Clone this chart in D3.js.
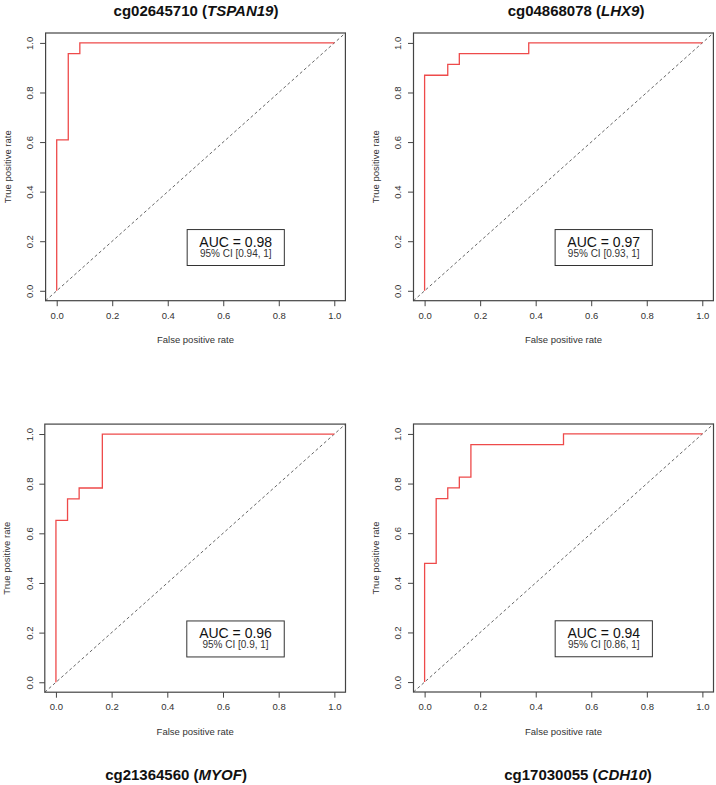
<!DOCTYPE html>
<html><head><meta charset="utf-8">
<script src="https://cdn.jsdelivr.net/npm/d3@7"></script>
<style>body{margin:0;background:#fff}svg{display:block}text{font-family:"Liberation Sans",Arial,sans-serif}</style>
</head><body>
<script>
// Data
const probeIds = ["cg02645710", "cg04868078", "cg21364560", "cg17030055"];
const geneNames = ["TSPAN19", "LHX9", "MYOF", "CDH10"];
const aucValues = ["0.98", "0.97", "0.96", "0.94"];
const ciLabels = ["[0.94, 1]", "[0.93, 1]", "[0.9, 1]", "[0.86, 1]"];
// ROC step points (FPR, TPR); 24 controls, 23 cases
const fpr1 = [0, 0, 1/24, 1/24, 2/24, 2/24, 1];
const tpr1 = [0, 14/23, 14/23, 22/23, 22/23, 1, 1];
const fpr2 = [0, 0, 2/24, 2/24, 3/24, 3/24, 9/24, 9/24, 1];
const tpr2 = [0, 20/23, 20/23, 21/23, 21/23, 22/23, 22/23, 1, 1];
const fpr3 = [0, 0, 1/24, 1/24, 2/24, 2/24, 4/24, 4/24, 1];
const tpr3 = [0, 15/23, 15/23, 17/23, 17/23, 18/23, 18/23, 1, 1];
const fpr4 = [0, 0, 1/24, 1/24, 2/24, 2/24, 3/24, 3/24, 4/24, 4/24, 12/24, 12/24, 1];
const tpr4 = [0, 11/23, 11/23, 17/23, 17/23, 18/23, 18/23, 19/23, 19/23, 22/23, 22/23, 1, 1];
const tickValues = [0, 0.2, 0.4, 0.6, 0.8, 1.0];
const xLabel = "False positive rate";
const yLabel = "True positive rate";

const curves = [[fpr1, tpr1], [fpr2, tpr2], [fpr3, tpr3], [fpr4, tpr4]];

// Layout
const panels = [
  {left: 45.6, top: 33, w: 299.8, h: 267.7, titleX: 196, titleY: 16},
  {left: 413.5, top: 33, w: 299.9, h: 267.7, titleX: 576, titleY: 16},
  {left: 44.8, top: 424.1, w: 300.7, h: 268.1, titleX: 176, titleY: 780},
  {left: 413.5, top: 424, w: 300, h: 268, titleX: 578, titleY: 780}
];

const svg = d3.select("body").append("svg").attr("width", 716).attr("height", 785);

panels.forEach((p, i) => {
  const x = d3.scaleLinear().domain([-0.04, 1.04]).range([p.left, p.left + p.w]);
  const y = d3.scaleLinear().domain([-0.04, 1.04]).range([p.top + p.h, p.top]);
  const g = svg.append("g");

  // title
  const t = g.append("text").attr("x", p.titleX).attr("y", p.titleY)
    .attr("text-anchor", "middle").attr("font-size", 15).attr("font-weight", "bold").attr("fill", "#111");
  t.append("tspan").text(probeIds[i] + " (");
  t.append("tspan").attr("font-style", "italic").text(geneNames[i]);
  t.append("tspan").text(")");

  // diagonal
  g.append("line").attr("x1", x(-0.04)).attr("y1", y(-0.04)).attr("x2", x(1.04)).attr("y2", y(1.04))
    .attr("stroke", "#555").attr("stroke-width", 0.9).attr("stroke-dasharray", "3,2.5");

  // ROC curve
  const [fx, ty] = curves[i];
  const pts = fx.map((v, k) => [v, ty[k]]);
  g.append("path").attr("d", d3.line().x(d => x(d[0])).y(d => y(d[1]))(pts))
    .attr("fill", "none").attr("stroke", "#ee4a4a").attr("stroke-width", 1.3);

  // box
  g.append("rect").attr("x", p.left).attr("y", p.top).attr("width", p.w).attr("height", p.h)
    .attr("fill", "none").attr("stroke", "#444").attr("stroke-width", 1.2);

  // axes
  const xAxis = g.append("g").attr("transform", `translate(0,${p.top + p.h})`)
    .call(d3.axisBottom(x).tickValues(tickValues).tickFormat(d3.format(".1f")).tickSize(5.5).tickPadding(6));
  const yAxis = g.append("g").attr("transform", `translate(${p.left},0)`)
    .call(d3.axisLeft(y).tickValues(tickValues).tickFormat(d3.format(".1f")).tickSize(5.5).tickPadding(6));
  [xAxis, yAxis].forEach(a => {
    a.select(".domain").remove();
    a.selectAll("line").attr("stroke", "#444");
    a.selectAll("text").attr("font-size", 9.5).attr("fill", "#333").attr("font-family", '"Liberation Sans",Arial,sans-serif');
  });
  xAxis.selectAll("text").attr("dy", "0.71em");
  yAxis.selectAll("text")
    .attr("x", 0).attr("y", 0).attr("dy", "0.35em").attr("text-anchor", "middle")
    .attr("transform", "translate(-15.5,0) rotate(-90)");

  // axis labels
  g.append("text").attr("x", x(0.5)).attr("y", p.top + p.h + 42.5).attr("text-anchor", "middle")
    .attr("font-size", 9.5).attr("fill", "#333").text(xLabel);
  g.append("text").attr("transform", `translate(${p.left - 35},${y(0.5)}) rotate(-90)`)
    .attr("text-anchor", "middle").attr("font-size", 9.5).attr("fill", "#333").text(yLabel);

  // AUC box
  const bx0 = x(0.47), bx1 = x(0.82), by0 = y(0.247), by1 = y(0.102);
  g.append("rect").attr("x", bx0).attr("y", by0).attr("width", bx1 - bx0).attr("height", by1 - by0)
    .attr("fill", "#fff").attr("stroke", "#333").attr("stroke-width", 1);
  const cx = (bx0 + bx1) / 2;
  g.append("text").attr("x", cx).attr("y", by0 + 17).attr("text-anchor", "middle")
    .attr("font-size", 14).attr("fill", "#111").text("AUC = " + aucValues[i]);
  g.append("text").attr("x", cx).attr("y", by0 + 27.5).attr("text-anchor", "middle")
    .attr("font-size", 10).attr("fill", "#333").text("95% CI " + ciLabels[i]);
});
</script>
</body></html>
